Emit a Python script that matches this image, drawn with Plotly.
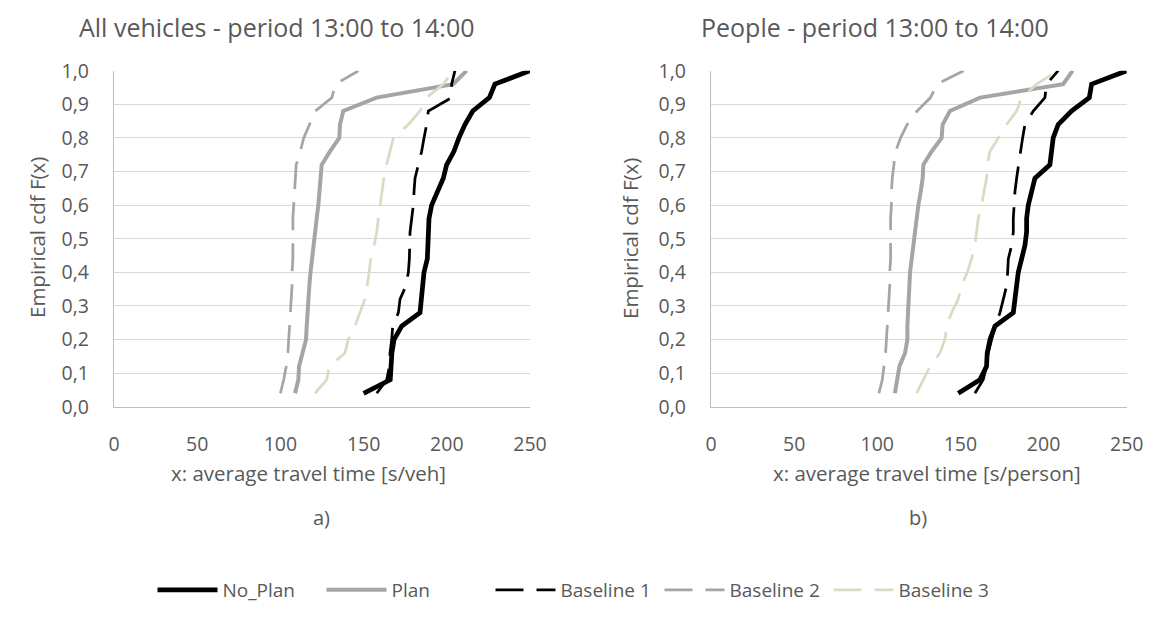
import plotly.graph_objects as go

W, H = 1151, 621
PAD = 8  # default body margin of the html page
FW, FH = W - PAD, H - PAD

# cumulative probability levels (25 runs)
cdf = [round(k / 25, 2) for k in range(1, 26)]

# a) All vehicles - average travel time [s/veh]
veh_no_plan = [150, 166, 166.5, 167, 168.3, 172.9, 183.9, 184.9, 185.5, 186.3, 188.3, 188.5, 188.7,
               189.3, 190.9, 194.3, 197.9, 199.9, 204.3, 207.3, 210.9, 215.6, 225.6, 228.9, 250]
veh_plan = [108.8, 110.8, 111.2, 113.4, 115.4, 115.8, 116.2, 116.6, 117.4, 118.1, 118.9, 119.8, 120.8,
            121.8, 122.8, 123.4, 123.8, 124.8, 129.8, 135.4, 135.8, 137.8, 157.8, 203.9, 211.9]
veh_base1 = [157.9, 163.9, 165.5, 165.9, 166.9, 167.5, 170.9, 171.9, 175.5, 176.9, 177.5, 177.5, 177.9,
             178.9, 179.9, 180.3, 180.9, 182.9, 184.9, 186.3, 187.9, 188.9, 202.9, 202.9, 204.9]
veh_base2 = [100, 102, 103.5, 104.5, 105, 105.5, 106, 106.5, 107, 107, 107.5, 107.5, 107.5,
             107.5, 108, 108.5, 109, 109.5, 112, 114, 117.5, 121, 131, 133, 147]
veh_base3 = [120.8, 127.8, 129.4, 138.8, 140.8, 144.8, 147.8, 150.8, 152.2, 153.4, 154.3, 156.3, 157.9,
             158.8, 159.8, 160.8, 162.2, 163.8, 165.8, 167.9, 176.9, 183.9, 187.9, 197.9, 203.9]

# b) People - average travel time [s/person]
ppl_no_plan = [148.7, 161.7, 165.7, 166.1, 167.8, 170.8, 181.8, 182.8, 183.4, 184.8, 186.8, 188.8, 189.8,
               189.8, 190.8, 192.8, 194.8, 203.8, 204.8, 205.8, 208.8, 216.8, 227.5, 228.9, 250]
ppl_plan = [110.6, 112.1, 113.3, 116.7, 118.1, 118.1, 118.5, 118.9, 119.3, 119.7, 120.7, 121.7, 122.1,
            123.3, 124.7, 126.1, 127.3, 127.7, 132.7, 138.7, 139.3, 143.7, 161.8, 211.8, 217.5]
ppl_base1 = [158.7, 163.7, 165.7, 166.7, 168.8, 170.8, 173.8, 175.8, 177.8, 178.4, 178.8, 180.8, 181.8,
             181.8, 182.2, 182.8, 183.8, 184.8, 186.2, 187.4, 188.8, 193.8, 200.8, 201.8, 208.8]
ppl_base2 = [101, 103, 104, 105, 105.5, 106, 106.5, 107, 107.5, 107.5, 108, 108, 108,
             108, 108.5, 108.5, 109, 110, 111, 114, 118, 124, 132, 136, 152]
ppl_base3 = [123.7, 127.7, 131.7, 137.7, 140.7, 141.7, 144.7, 148.7, 150.7, 154.1, 156.7, 158.7, 159.7,
             160.7, 162.7, 164.1, 165.7, 166.1, 167.8, 172.8, 177.8, 183.8, 186.8, 195.8, 208.8]

names = ["No_Plan", "Plan", "Baseline 1", "Baseline 2", "Baseline 3"]
colors = ["#000000", "#a5a5a5", "#000000", "#a5a5a5", "#ddd9c3"]
widths = [4.75, 4, 2.75, 2.75, 2.75]
dashes = ["solid", "solid", "28px,13px", "28px,13px", "28px,13px"]

panels = [
    (["x", "y"], [veh_no_plan, veh_plan, veh_base1, veh_base2, veh_base3]),
    (["x2", "y2"], [ppl_no_plan, ppl_plan, ppl_base1, ppl_base2, ppl_base3]),
]

FONT = "Open Sans"
TXT = "#595959"

fig = go.Figure()
for p, (refs, series) in enumerate(panels):
    for i, vals in enumerate(series):
        fig.add_trace(go.Scatter(
            x=vals, y=cdf, xaxis=refs[0], yaxis=refs[1], mode="lines", name=names[i],
            legendgroup=names[i], showlegend=(p == 0),
            line=dict(color=colors[i], width=widths[i], dash=dashes[i]),
        ))


# page pixel -> paper fraction
def px_x(v):
    return (v - PAD) / FW


def px_y(v):
    return 1 - (v - PAD) / FH


top, bottom = 70.7, 406.7
ydom = [px_y(bottom), px_y(top)]
xaxis_style = dict(range=[0, 250], dtick=50, showgrid=False, zeroline=False, showline=True,
                   linecolor="#bfbfbf", linewidth=1.3, ticks="", ticklabelstandoff=20,
                   tickfont=dict(family=FONT, size=19.5, color=TXT))
yaxis_style = dict(range=[0, 1], dtick=0.1, tickformat=".1f", showgrid=True, gridcolor="#d9d9d9",
                   gridwidth=1.3, zeroline=False, showline=True, linecolor="#bfbfbf", linewidth=1.3,
                   ticks="", ticklabelstandoff=20, tickfont=dict(family=FONT, size=19.5, color=TXT))

fig.update_layout(
    width=FW, height=FH, paper_bgcolor="white", plot_bgcolor="white",
    margin=dict(l=0, r=0, t=0, b=0, autoexpand=False), separators=", ",
    xaxis=dict(domain=[px_x(114), px_x(530)], anchor="y", **xaxis_style),
    yaxis=dict(domain=ydom, anchor="x", **yaxis_style),
    xaxis2=dict(domain=[px_x(711), px_x(1126.7)], anchor="y2", **xaxis_style),
    yaxis2=dict(domain=ydom, anchor="x2", **yaxis_style),
    legend=dict(orientation="h", x=px_x(575), xanchor="center", y=px_y(590), yanchor="middle",
                font=dict(family=FONT, size=19, color=TXT), tracegroupgap=0,
                itemwidth=60, entrywidth=94, entrywidthmode="pixels"),
)

labels = [
    ("All vehicles - period 13:00 to 14:00", 276, PAD, 25, 0, "top"),
    ("People - period 13:00 to 14:00", 875, PAD, 25, 0, "top"),
    ("x: average travel time [s/veh]", 308, 473, 20.5, 0, "middle"),
    ("x: average travel time [s/person]", 927, 473, 20.5, 0, "middle"),
    ("Empirical cdf F(x)", 37, 238, 20.5, -90, "middle"),
    ("Empirical cdf F(x)", 630, 238, 20.5, -90, "middle"),
    ("a)", 321, 517, 20, 0, "middle"),
    ("b)", 918, 517, 20, 0, "middle"),
]
for text, x, y, size, ang, ya in labels:
    fig.add_annotation(text=text, x=px_x(x), y=px_y(y), xref="paper", yref="paper",
                       xanchor="center", yanchor=ya, showarrow=False, textangle=ang,
                       font=dict(family=FONT, size=size, color=TXT))

fig.write_html("out.html")
